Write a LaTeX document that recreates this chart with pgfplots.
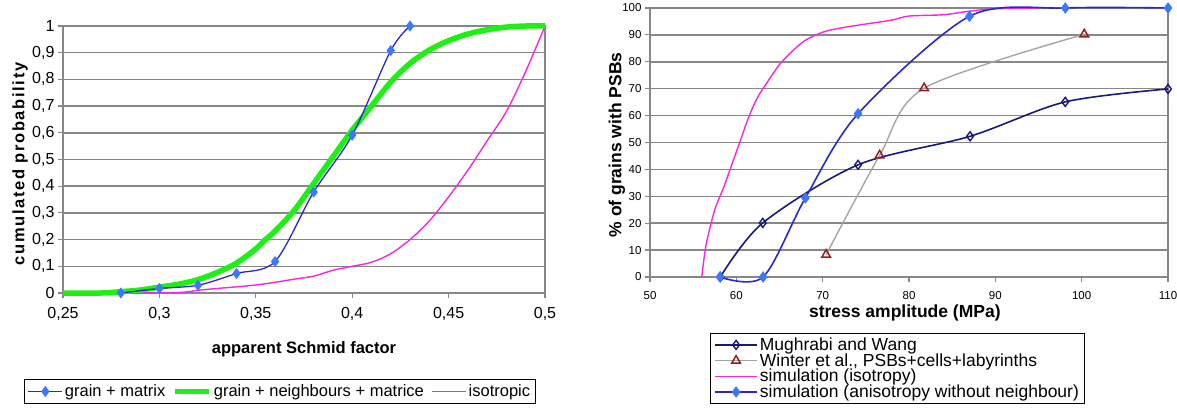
\documentclass[border=0pt]{standalone}
\usepackage{fontspec}
\setmainfont{Liberation Sans}
\usepackage{pgfplots}
\pgfplotsset{compat=1.18}

\definecolor{gridgray}{RGB}{135,135,135}
\definecolor{lineblue}{RGB}{40,40,205}
\definecolor{markblue}{RGB}{60,120,255}
\definecolor{brightgreen}{RGB}{30,240,20}
\definecolor{magentaline}{RGB}{245,40,220}
\definecolor{navy}{RGB}{25,25,120}
\definecolor{darkred}{RGB}{150,30,30}
\definecolor{lightgray}{RGB}{165,165,165}

\pgfplotsset{
  excel/.style={
    scale only axis, clip=false,
    axis line style={gridgray, line width=1.2pt},
    ymajorgrids, grid style={gridgray, line width=1.5pt},
    tick align=outside, major tick length=5pt,
    tick style={gridgray, line width=1.2pt},
    xtick pos=bottom, ytick pos=left,
    /pgf/number format/assume math mode=true,
    /pgf/number format/use comma,
    /pgf/number format/1000 sep={},
    legend cell align=left,
  },
  longline/.style={legend image code/.code={
    \draw[mark repeat=2,mark phase=2,##1] plot coordinates {(0pt,0pt) (17pt,0pt) (34pt,0pt)};}},
  longline2/.style={legend image code/.code={
    \draw[mark repeat=2,mark phase=2,##1] plot coordinates {(0pt,0pt) (21pt,0pt) (42pt,0pt)};}},
}

\begin{document}
\begin{tikzpicture}
\useasboundingbox (0,0) rectangle (1177pt,411pt);

% left: cumulated probability vs apparent Schmid factor
% plotted back to front, legend reversed so it reads blue, green, magenta
\begin{axis}[excel, at={(63pt,118pt)}, anchor=south west,
  width=482pt, height=267pt,
  xmin=0.25, xmax=0.5, ymin=0, ymax=1,
  xtick={0.25,0.3,0.35,0.4,0.45,0.5},
  ytick={0,0.1,0.2,0.3,0.4,0.5,0.6,0.7,0.8,0.9,1},
  ticklabel style={font=\fontsize{16}{19}\selectfont},
  xticklabel style={yshift=-6pt},
  xlabel={apparent Schmid factor},
  ylabel={\addfontfeatures{LetterSpace=10}cumulated probability},
  label style={font=\fontsize{16.5}{19}\selectfont\bfseries},
  xlabel style={at={(axis description cs:0.5,-0.2097)}, anchor=center},
  ylabel style={at={(axis description cs:-0.089,0.483)}, anchor=center},
  longline,
  legend columns=3, reverse legend,
  legend style={at={(0.450,-0.369)}, anchor=center, draw=black, line width=1pt,
    font=\fontsize{16.5}{19}\selectfont, inner xsep=3pt, inner ysep=3pt,
    /tikz/every even column/.append style={column sep=5pt}},
]
\addplot[magentaline, line width=1.4pt, smooth,
  legend image code/.code={\draw[draw=magentaline, line width=1.8pt] (0pt,0pt) -- (34pt,0pt);}]
  coordinates {
 (0.28,0) (0.31,0.002) (0.32,0.01) (0.33,0.017) (0.34,0.023) (0.35,0.03)
 (0.36,0.04) (0.37,0.052) (0.38,0.063) (0.39,0.085) (0.40,0.10) (0.41,0.115)
 (0.42,0.147) (0.43,0.20) (0.44,0.27) (0.45,0.36) (0.46,0.46) (0.47,0.57)
 (0.48,0.68) (0.49,0.83) (0.50,1.0)};
\addlegendentry{isotropic}
\addplot[brightgreen, line width=5.5pt, smooth] coordinates {
 (0.25,0) (0.27,0) (0.28,0.005) (0.29,0.011) (0.30,0.022) (0.31,0.033)
 (0.32,0.05) (0.33,0.077) (0.34,0.112) (0.35,0.165) (0.355,0.2) (0.36,0.232)
 (0.37,0.31) (0.38,0.41) (0.39,0.51) (0.40,0.61) (0.41,0.70) (0.42,0.79)
 (0.43,0.86) (0.44,0.91) (0.45,0.945) (0.46,0.97) (0.47,0.986) (0.48,0.996)
 (0.49,1.0) (0.50,1.0)};
\addlegendentry{grain + neighbours + matrice}
\addplot[lineblue, line width=1.3pt, smooth, mark=diamond*, mark size=4.5pt,
  mark options={fill=markblue, draw=markblue}] coordinates {
 (0.28,0) (0.30,0.017) (0.32,0.029) (0.34,0.073) (0.36,0.118) (0.38,0.378)
 (0.40,0.591) (0.42,0.908) (0.43,1.0)};
\addlegendentry{grain + matrix}
\end{axis}

% right: % of grains with PSBs vs stress amplitude
\begin{axis}[excel, at={(650pt,134pt)}, anchor=south west,
  width=518pt, height=269pt,
  xmin=50, xmax=110, ymin=0, ymax=100,
  xtick={50,60,70,80,90,100,110},
  ytick={0,10,20,30,40,50,60,70,80,90,100},
  ticklabel style={font=\fontsize{11.5}{13}\selectfont},
  xticklabel style={yshift=-6pt},
  xlabel={stress amplitude (MPa)},
  ylabel={\% of grains with PSBs},
  label style={font=\fontsize{17.5}{20}\selectfont\bfseries},
  xlabel style={at={(axis description cs:0.492,-0.134)}, anchor=center},
  ylabel style={at={(axis description cs:-0.0637,0.491)}, anchor=center},
  longline2,
  legend style={at={(0.478,-0.340)}, anchor=center, draw=black, line width=1pt,
    font=\fontsize{17.5}{18}\selectfont, inner xsep=4pt, inner ysep=2pt,
    row sep=-2.5pt},
]
\addplot[navy, line width=1.6pt, smooth, mark=diamond, mark size=4.5pt,
  mark options={fill=white, draw=navy, line width=1.4pt}] coordinates {
 (58.15,0) (63.06,20.1) (74.1,41.7) (87.07,52.3) (98.1,65.1) (110,69.9)};
\addlegendentry{Mughrabi and Wang}
\addplot[lightgray, line width=1.4pt, smooth, mark=triangle, mark size=5pt,
  mark options={fill=white, draw=darkred, line width=1.5pt}] coordinates {
 (70.4,8.3) (76.6,45.2) (81.75,70.2) (100.3,90.2)};
\addlegendentry{Winter et al., PSBs+cells+labyrinths}
\addplot[magentaline, line width=1.4pt, smooth] coordinates {
 (56,0) (56.5,12) (57.5,25) (58.5,33) (59.5,42) (60.5,51) (61.5,60)
 (62.5,67) (63.5,72) (65,79) (66.5,84) (68,88) (70,91) (72,92.5)
 (74.5,93.8) (78,95.5) (80,97) (84,97.5) (87,98.8) (90,99.7) (95,100)};
\addlegendentry{simulation (isotropy)}
\addplot[lineblue, line width=1.6pt, smooth, mark=diamond*, mark size=4.5pt,
  mark options={fill=markblue, draw=markblue}] coordinates {
 (58.1,0) (63.1,0) (68,29.4) (74.1,60.7) (87.0,96.9) (98.1,100) (110,100)};
\addlegendentry{simulation (anisotropy without neighbour)}
\end{axis}
\end{tikzpicture}
\end{document}
